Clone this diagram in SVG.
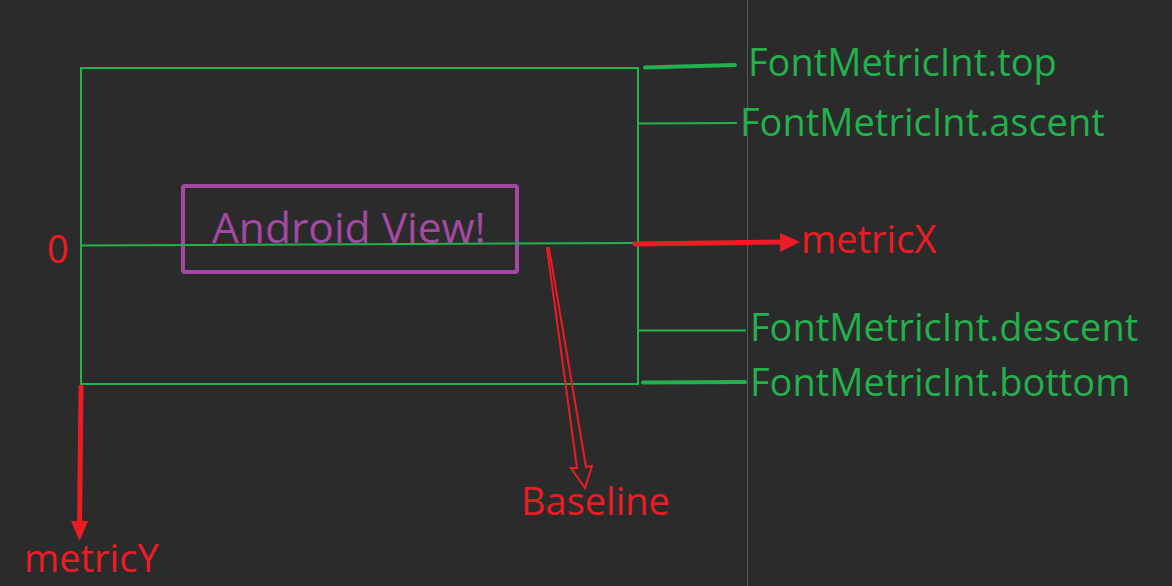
<svg xmlns="http://www.w3.org/2000/svg" width="1172" height="586" viewBox="0 0 1172 586">
<style>
.g{fill:none;stroke:#22b14c;stroke-width:2}
.gt{fill:none;stroke:#22b14c;stroke-width:4;stroke-linecap:round}
.r{fill:none;stroke:#ed1c24;stroke-width:5;stroke-linecap:round}
.txt{font-family:"Open Sans","Noto Sans",sans-serif}
.gl{fill:#22b14c;font-size:38px}
.rl{fill:#ed1c24;font-size:38px}
</style>
<rect width="1172" height="586" fill="#2b2b2b"/>
<line x1="747.5" y1="0" x2="747.5" y2="586" stroke="#555" stroke-width="1"/>
<g id="frame">
<rect class="g" x="81" y="68" width="557" height="316"/>
</g>
<g id="view">
<rect x="183" y="186" width="334" height="86" rx="2" fill="none" stroke="#a349a4" stroke-width="4"/>
<text class="txt" x="212" y="243" fill="#a349a4" font-size="42.5">Android View!</text>
</g>
<g id="connectors">
<line class="g" x1="81" y1="245.5" x2="638" y2="243"/>
<line class="gt" x1="645" y1="67.5" x2="735" y2="65"/>
<line class="g" x1="638" y1="123.5" x2="737" y2="123"/>
<line class="g" x1="638" y1="330.5" x2="746" y2="330.5"/>
<line class="gt" x1="643" y1="382.5" x2="745" y2="382"/>
<line class="r" x1="635" y1="244" x2="785" y2="242"/>
<polygon points="780,233 800,242 780,252" fill="#ed1c24"/>
<line class="r" x1="81" y1="387" x2="79.5" y2="528"/>
<polygon points="71,521 88,521 79.5,541" fill="#ed1c24"/>
<polygon points="547,248 577,468 571,468 585,488 592,466 586,467 549,248" fill="none" stroke="#ed1c24" stroke-width="2" stroke-linejoin="miter"/>
</g>
<g id="labels">
<text class="txt gl" x="748" y="76">FontMetricInt.top</text>
<text class="txt gl" x="740" y="136">FontMetricInt.ascent</text>
<text class="txt gl" x="750" y="341">FontMetricInt.descent</text>
<text class="txt gl" x="750" y="396">FontMetricInt.bottom</text>
<text class="txt rl" x="47" y="263">0</text>
<text class="txt rl" x="801" y="253">metricX</text>
<text class="txt rl" x="521" y="515" font-size="37">Baseline</text>
<text class="txt rl" x="24" y="572" font-size="37">metricY</text>
</g>
</svg>
